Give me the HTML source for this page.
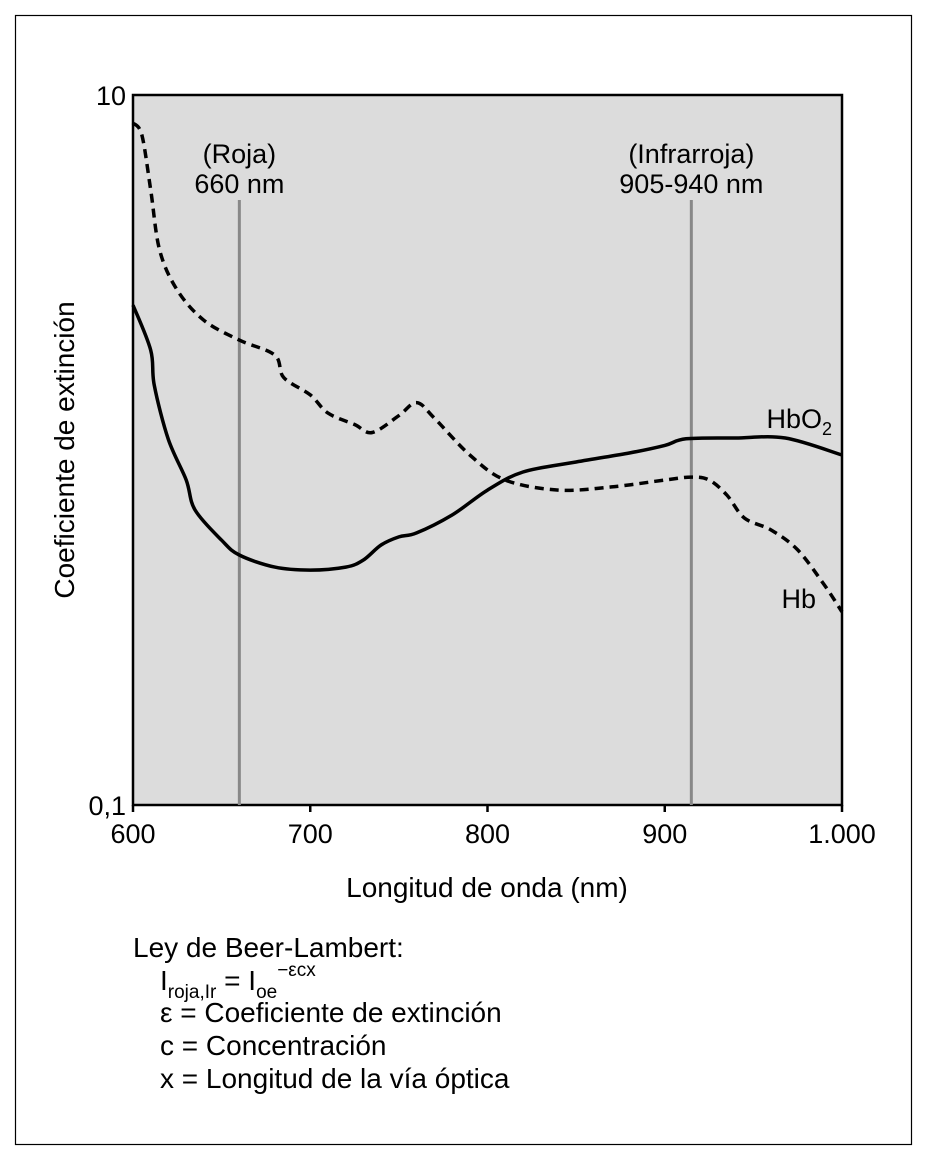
<!DOCTYPE html>
<html><head><meta charset="utf-8"><style>
html,body{margin:0;padding:0;background:#fff}
svg{display:block;font-family:"Liberation Sans",Arial,sans-serif}
</style></head><body>
<svg id="chart" width="928" height="1160" viewBox="0 0 928 1160">
<rect x="15.5" y="15.5" width="896" height="1129" fill="none" stroke="#000" stroke-width="1.2"/>
<rect x="133" y="95" width="709" height="710" fill="#dcdcdc" stroke="#000" stroke-width="2.5"/>
<g id="marks"></g>
<text x="487" y="897" font-size="28" text-anchor="middle">Longitud de onda (nm)</text>
<text transform="translate(74,450) rotate(-90)" font-size="28" text-anchor="middle">Coeficiente de extinción</text>
<text x="126" y="105" font-size="27" text-anchor="end">10</text>
<text x="126" y="815" font-size="27" text-anchor="end">0,1</text>
<text x="832" y="428" font-size="27" text-anchor="end">HbO<tspan font-size="18" dy="7">2</tspan></text>
<text x="816" y="608" font-size="27" text-anchor="end">Hb</text>
<g font-size="28">
<text x="133" y="957">Ley de Beer-Lambert:</text>
<text x="160" y="990">I<tspan font-size="19" dy="8">roja,Ir</tspan><tspan dy="-8"> = I</tspan><tspan font-size="19" dy="8">oe</tspan><tspan font-size="19" dy="-22">−εcx</tspan></text>
<text x="160" y="1022">ε = Coeficiente de extinción</text>
<text x="160" y="1055">c = Concentración</text>
<text x="160" y="1088">x = Longitud de la vía óptica</text>
</g>
</svg>
<script>
const xTicks=[600,700,800,900,1000];
const xTickLabels=["600","700","800","900","1.000"];
const hbo2Wl=[600,610,612,620,630,635,650,660,680,700,720,730,740,750,760,780,800,820,850,880,900,912,940,968,1000];
const hbo2Val=[2.56,1.91,1.52,1.07,0.823,0.678,0.557,0.506,0.468,0.459,0.468,0.49,0.54,0.569,0.584,0.656,0.771,0.867,0.925,0.981,1.03,1.075,1.081,1.081,0.968];
const hbWl=[600,605,610,615,625,640,660,680,685,700,710,725,735,750,760,770,790,810,840,870,900,915,925,935,945,960,975,990,1000];
const hbVal=[8.34,7.71,5.40,3.66,2.82,2.32,2.04,1.85,1.60,1.43,1.27,1.18,1.12,1.25,1.36,1.23,0.968,0.823,0.771,0.787,0.823,0.839,0.823,0.747,0.643,0.595,0.523,0.417,0.350];
const markerWl=[660,915];
const markerTop=["(Roja)","(Infrarroja)"];
const markerBottom=["660 nm","905-940 nm"];
const X=w=>133+(w-600)/400*709;
const Y=v=>450-Math.log10(v)*355;
const NS="http://www.w3.org/2000/svg";
const g=document.getElementById('marks');
const svg=document.getElementById('chart');
function mk(t,a,p){const e=document.createElementNS(NS,t);for(const k in a)e.setAttribute(k,a[k]);(p||g).appendChild(e);return e;}
markerWl.forEach((w,i)=>{
 const l=mk('line',{x1:X(w),x2:X(w),y1:200,y2:805,stroke:'#888','stroke-width':3});
 
 
 const t1=mk('text',{x:X(w),y:163,'font-size':27,'text-anchor':'middle'},svg);t1.textContent=markerTop[i];
 
 
 const t2=mk('text',{x:X(w),y:193,'font-size':27,'text-anchor':'middle'},svg);t2.textContent=markerBottom[i];
 
 
});
function pathD(ws,vs){
 const p=ws.map((w,i)=>[X(w),Y(vs[i])]);
 let d='M'+p[0][0].toFixed(1)+','+p[0][1].toFixed(1);
 for(let i=0;i<p.length-1;i++){
  const p0=p[i-1]||p[i],p1=p[i],p2=p[i+1],p3=p[i+2]||p2;
  const c1=[p1[0]+(p2[0]-p0[0])/6,p1[1]+(p2[1]-p0[1])/6];
  const c2=[p2[0]-(p3[0]-p1[0])/6,p2[1]-(p3[1]-p1[1])/6];
  d+='C'+c1.map(v=>v.toFixed(1))+' '+c2.map(v=>v.toFixed(1))+' '+p2.map(v=>v.toFixed(1));
 }
 return d;
}
const p1=mk('path',{d:pathD(hbo2Wl,hbo2Val),fill:'none',stroke:'#000','stroke-width':3.5,'stroke-linejoin':'round'});


const p2=mk('path',{d:pathD(hbWl,hbVal),fill:'none',stroke:'#000','stroke-width':3.5,'stroke-dasharray':'9,6','stroke-linejoin':'round'});


xTicks.forEach((w,i)=>{
 const tk=mk('line',{x1:X(w),x2:X(w),y1:805,y2:812,stroke:'#000','stroke-width':2.5},svg);
 
 
 const t=mk('text',{x:X(w),y:843,'font-size':27,'text-anchor':'middle'},svg);t.textContent=xTickLabels[i];
 
 
});
</script>
</body></html>
